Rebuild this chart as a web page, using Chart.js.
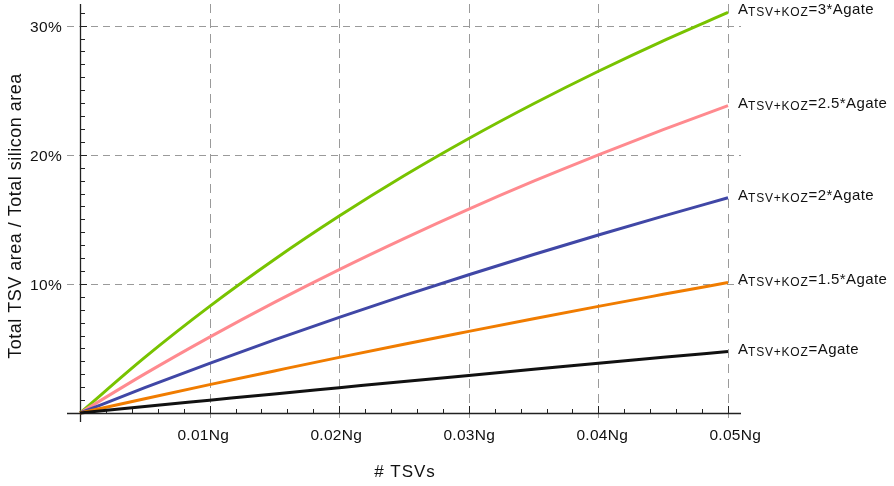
<!DOCTYPE html>
<html>
<head>
<meta charset="utf-8">
<script src="https://cdn.jsdelivr.net/npm/chart.js@4"></script>
<style>
  html, body { margin: 0; padding: 0; background: #fff; }
  #areaChart { display: block; }
</style>
</head>
<body>
<canvas id="areaChart" width="894" height="486"></canvas>
<script>
// number of TSVs, as a fraction of the gate count Ng
var tsvCount = [0, 0.005, 0.01, 0.015, 0.02, 0.025, 0.03, 0.035, 0.04, 0.045, 0.05];

// TSV area share (%) for each TSV+KOZ size
var share1x   = [0, 0.50, 0.99, 1.48, 1.96, 2.44, 2.91, 3.38, 3.85, 4.31, 4.76];
var share15x  = [0, 1.11, 2.20, 3.26, 4.31, 5.33, 6.32, 7.30, 8.26, 9.19, 10.11];
var share2x   = [0, 1.96, 3.85, 5.66, 7.41, 9.09, 10.71, 12.28, 13.79, 15.25, 16.67];
var share25x  = [0, 3.03, 5.88, 8.57, 11.11, 13.51, 15.79, 17.95, 20.00, 21.95, 23.81];
var share3x   = [0, 4.31, 8.26, 11.89, 15.25, 18.37, 21.26, 23.95, 26.47, 28.83, 31.03];

var seriesLabels = ["=Agate", "=1.5*Agate", "=2*Agate", "=2.5*Agate", "=3*Agate"];
var seriesColors = ["#111111", "#f07c00", "#4047a6", "#ff8a8f", "#78c300"];

var xTicks = [0.01, 0.02, 0.03, 0.04, 0.05];
var xTickLabels = ["0.01Ng", "0.02Ng", "0.03Ng", "0.04Ng", "0.05Ng"];
var yTicks = [10, 20, 30];
var yTickLabels = ["10%", "20%", "30%"];

function toPoints(values) {
    var pts = [];
    for (var i = 0; i < tsvCount.length; i++) {
        pts.push({ x: tsvCount[i], y: values[i] });
    }
    return pts;
}

var allShares = [share1x, share15x, share2x, share25x, share3x];
var datasets = [];
for (var i = 0; i < allShares.length; i++) {
    datasets.push({
        label: seriesLabels[i],
        data: toPoints(allShares[i]),
        borderColor: seriesColors[i],
        borderWidth: 3,
        pointRadius: 0,
        fill: false,
        clip: false,
        cubicInterpolationMode: 'monotone'
    });
}

var FONT = "'Liberation Sans', Arial, sans-serif";

// grid, frame axes and ticks drawn in the Mathematica look
var framePlugin = {
    id: 'frame',
    beforeDatasetsDraw: function (chart) {
        var ctx = chart.ctx;
        var xs = chart.scales.x, ys = chart.scales.y;
        var x0 = xs.getPixelForValue(0), y0 = ys.getPixelForValue(0);
        var left = x0 - 13, right = xs.getPixelForValue(0.05) + 13;
        var top = ys.getPixelForValue(ys.max) - 1, bottom = y0 + 9;

        ctx.save();
        ctx.strokeStyle = '#9a9a9a';
        ctx.lineWidth = 1;
        ctx.setLineDash([7, 5]);
        yTicks.forEach(function (v) {
            var y = Math.round(ys.getPixelForValue(v)) + 0.5;
            ctx.beginPath();
            ctx.moveTo(left, y);
            ctx.lineTo(right, y);
            ctx.stroke();
        });
        ctx.setLineDash([9, 6]);
        xTicks.forEach(function (v) {
            var x = Math.round(xs.getPixelForValue(v)) + 0.5;
            ctx.beginPath();
            ctx.moveTo(x, top);
            ctx.lineTo(x, bottom);
            ctx.stroke();
        });
        ctx.setLineDash([]);

        // axes
        ctx.strokeStyle = '#222';
        ctx.lineWidth = 1.3;
        ctx.beginPath();
        ctx.moveTo(Math.round(x0) + 0.5, top);
        ctx.lineTo(Math.round(x0) + 0.5, bottom);
        ctx.moveTo(left, Math.round(y0) + 0.5);
        ctx.lineTo(right, Math.round(y0) + 0.5);
        ctx.stroke();

        // minor ticks every 1% on y, every 0.002 on x
        ctx.lineWidth = 1;
        ctx.beginPath();
        for (var p = 1; p <= 31; p++) {
            var y = Math.round(ys.getPixelForValue(p)) + 0.5;
            var len = (p % 10 === 0) ? 7 : 5;
            ctx.moveTo(x0, y);
            ctx.lineTo(x0 + len, y);
        }
        for (var k = 1; k <= 25; k++) {
            var x = Math.round(xs.getPixelForValue(k * 0.002)) + 0.5;
            var len2 = (k % 5 === 0) ? 7 : 4;
            ctx.moveTo(x, y0);
            ctx.lineTo(x, y0 - len2);
        }
        ctx.stroke();
        ctx.restore();
    },
    afterDatasetsDraw: function (chart) {
        var ctx = chart.ctx;
        var xs = chart.scales.x, ys = chart.scales.y;
        var x0 = xs.getPixelForValue(0);
        ctx.save();
        ctx.fillStyle = '#111';

        // tick labels
        ctx.font = '15.5px ' + FONT;
        ctx.letterSpacing = '0.3px';
        ctx.textAlign = 'center';
        ctx.textBaseline = 'alphabetic';
        xTicks.forEach(function (v, i) {
            ctx.fillText(xTickLabels[i], xs.getPixelForValue(v) + (i - 2) * 3.4 + 0.5, 440);
        });
        ctx.textAlign = 'right';
        ctx.textBaseline = 'middle';
        yTicks.forEach(function (v, i) {
            ctx.fillText(yTickLabels[i], x0 - 18, ys.getPixelForValue(v) + 2);
        });

        // axis titles
        ctx.font = '17px ' + FONT;
        ctx.letterSpacing = '1px';
        ctx.textAlign = 'center';
        ctx.textBaseline = 'alphabetic';
        ctx.fillText('# TSVs', 405, 477);

        ctx.save();
        ctx.translate(21, 216);
        ctx.rotate(-Math.PI / 2);
        ctx.font = '18px ' + FONT;
        ctx.letterSpacing = '0.5px';
        ctx.fillText('Total TSV area / Total silicon area', 0, 0);
        ctx.restore();

        // curve labels at the right end of each line
        ctx.textAlign = 'left';
        ctx.textBaseline = 'alphabetic';
        chart.data.datasets.forEach(function (ds) {
            var last = ds.data[ds.data.length - 1];
            var x = xs.getPixelForValue(last.x) + 10;
            var y = ys.getPixelForValue(last.y) + 2;
            ctx.font = '15px ' + FONT;
            ctx.letterSpacing = '0px';
            ctx.fillText('A', x, y);
            x += ctx.measureText('A').width;
            ctx.font = '12px ' + FONT;
            ctx.letterSpacing = '0.8px';
            ctx.fillText('TSV+KOZ', x, y + 2);
            x += ctx.measureText('TSV+KOZ').width;
            ctx.font = '15px ' + FONT;
            ctx.letterSpacing = '0.4px';
            ctx.fillText(ds.label, x, y);
        });
        ctx.restore();
    }
};

new Chart(document.getElementById('areaChart'), {
    type: 'line',
    data: { datasets: datasets },
    options: {
        responsive: false,
        animation: false,
        devicePixelRatio: 1,
        layout: { padding: { left: 80, right: 166, top: 5, bottom: 73 } },
        scales: {
            x: { type: 'linear', min: 0, max: 0.05, display: false },
            y: { type: 'linear', min: 0, max: 31.6, display: false }
        },
        plugins: {
            legend: { display: false },
            tooltip: { enabled: false }
        }
    },
    plugins: [framePlugin]
});
</script>
</body>
</html>
